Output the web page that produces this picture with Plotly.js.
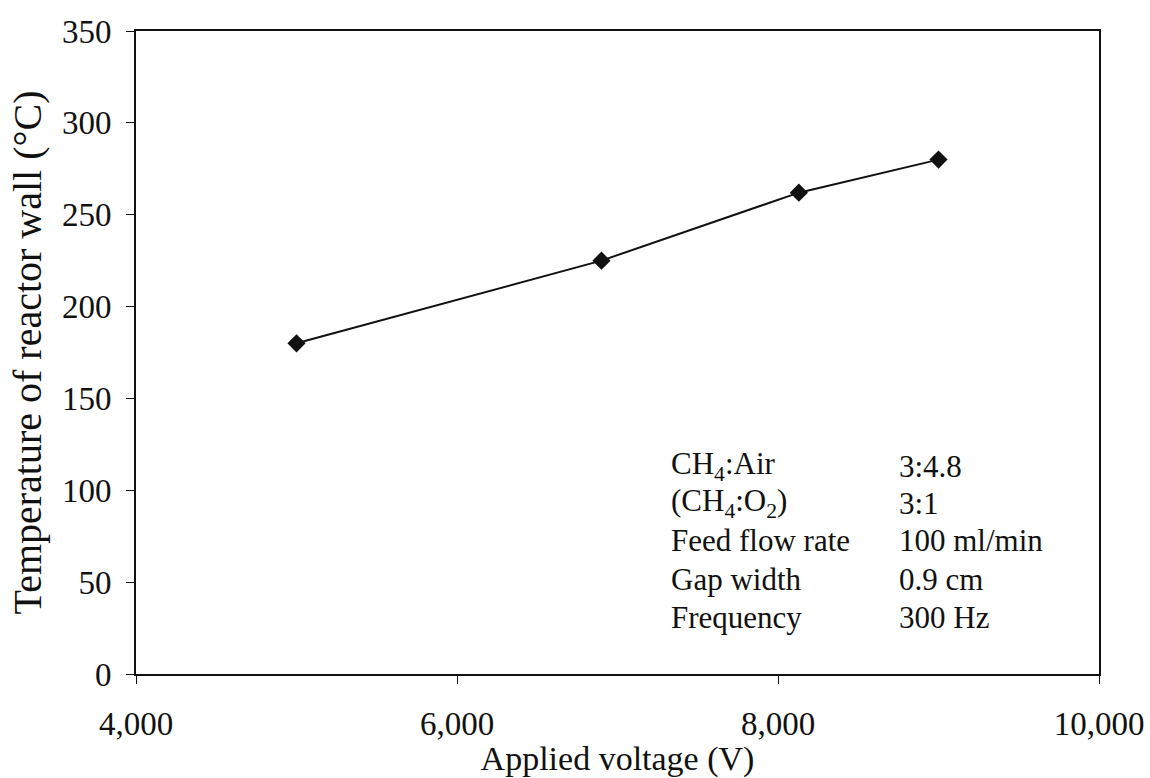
<!DOCTYPE html>
<html>
<head>
<meta charset="utf-8">
<script src="https://cdn.plot.ly/plotly-3.0.1.min.js"></script>
<style>
  html, body { margin: 0; padding: 0; background: #fff; }
  #chart { width: 1150px; height: 778px; }
</style>
</head>
<body>
<div id="chart"></div>
<script>
// Wall temperature of the reactor against applied voltage
const voltage = [5000, 6900, 8130, 9000];
const wallTemp = [180, 225, 262, 280];

const xTicks = [4000, 6000, 8000, 10000];
const xTickText = ['4,000', '6,000', '8,000', '10,000'];
const yTicks = [0, 50, 100, 150, 200, 250, 300, 350];

// Operating conditions listed in the plot corner
const condLabels = ['CH<sub>4</sub>:Air', '(CH<sub>4</sub>:O<sub>2</sub>)', 'Feed flow rate', 'Gap width', 'Frequency'];
const condValues = ['3:4.8', '3:1', '100 ml/min', '0.9 cm', '300 Hz'];
const condRowY = [113, 93, 72.5, 51.5, 30.5];

const serif = 'Liberation Serif, Times New Roman, serif';
const ink = '#111';

const annotations = [];
condLabels.forEach((t, i) => {
  annotations.push({
    x: 7322, y: condRowY[i], xref: 'x', yref: 'y', text: t,
    showarrow: false, xanchor: 'left', yanchor: 'middle',
    font: { family: serif, size: 31, color: ink }
  });
  annotations.push({
    x: 8742, y: condRowY[i], xref: 'x', yref: 'y', text: condValues[i],
    showarrow: false, xanchor: 'left', yanchor: 'middle',
    font: { family: serif, size: 31, color: ink }
  });
});

const trace = {
  x: voltage, y: wallTemp, type: 'scatter', mode: 'lines+markers',
  line: { color: ink, width: 2 },
  marker: { symbol: 'diamond', size: 14, color: ink },
  hoverinfo: 'x+y'
};

const layout = {
  width: 1150, height: 778,
  paper_bgcolor: '#fff', plot_bgcolor: '#fff',
  margin: { l: 136, r: 51, t: 31, b: 104 },
  showlegend: false,
  font: { family: serif, color: ink },
  xaxis: {
    range: [4000, 10000], tickvals: xTicks, ticktext: xTickText,
    showgrid: false, zeroline: false,
    showline: true, linecolor: ink, linewidth: 2, mirror: true,
    ticks: 'outside', ticklen: 8, tickwidth: 1, tickcolor: ink,
    ticklabelstandoff: 11,
    tickfont: { family: serif, size: 33, color: ink },
    title: { text: 'Applied voltage (V)', font: { family: serif, size: 34, color: ink }, standoff: 0 }
  },
  yaxis: {
    range: [0, 350], tickvals: yTicks,
    showgrid: false, zeroline: false,
    showline: true, linecolor: ink, linewidth: 2, mirror: true,
    ticks: 'outside', ticklen: 8, tickwidth: 1, tickcolor: ink,
    ticklabelstandoff: 8,
    tickfont: { family: serif, size: 33, color: ink },
    title: { text: 'Temperature of reactor wall (°C)', font: { family: serif, size: 40, color: ink }, standoff: 8 }
  },
  annotations: annotations
};

Plotly.newPlot('chart', [trace], layout, { displayModeBar: false, staticPlot: true });
</script>
</body>
</html>
